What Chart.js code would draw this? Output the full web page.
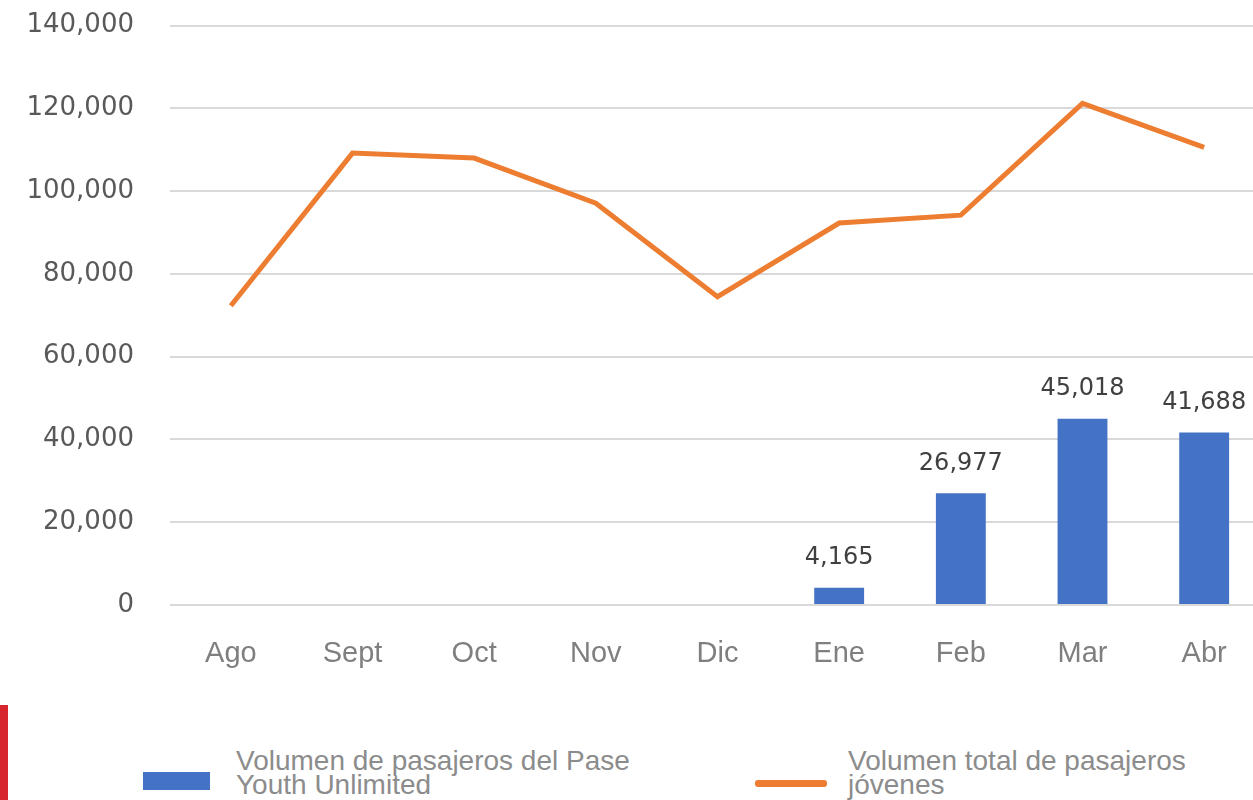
<!DOCTYPE html>
<html>
<head>
<meta charset="utf-8">
<script src="https://cdn.jsdelivr.net/npm/chart.js@4"></script>
<style>
  body { margin: 0; background: #fff; width: 1253px; height: 800px; overflow: hidden; position: relative; font-family: "Liberation Sans", Arial, sans-serif; }
  #wrap { position: absolute; left: 0; top: -26px; width: 1265px; height: 726px; }
  .redbar { position: absolute; left: 0; top: 705px; width: 8px; height: 95px; background: #d7262e; }
  .leg { position: absolute; color: #8c8c8c; font-size: 28px; line-height: 24px; white-space: nowrap; }
  .sw { position: absolute; }
</style>
</head>
<body>
<div id="wrap"><canvas id="grafico" width="1265" height="726"></canvas></div>
<div class="redbar"></div>
<div class="sw" style="left:143px;top:772px;width:67px;height:18px;background:#4472c4"></div>
<div class="leg" style="left:236px;top:749px">Volumen de pasajeros del Pase<br>Youth Unlimited</div>
<div class="sw" style="left:755px;top:780px;width:72px;height:7px;background:#ed7d31;border-radius:3px"></div>
<div class="leg" style="left:848px;top:749px">Volumen total de pasajeros<br>jóvenes</div>
<script>
// Datos
const meses = ['Ago', 'Sept', 'Oct', 'Nov', 'Dic', 'Ene', 'Feb', 'Mar', 'Abr'];
const pasajerosPase = [null, null, null, null, null, 4165, 26977, 45018, 41688];
const pasajerosTotal = [72300, 109200, 108000, 97100, 74500, 92300, 94200, 121200, 110600];
const ticksY = [0, 20000, 40000, 60000, 80000, 100000, 120000, 140000];

const fmt = v => v.toLocaleString('en-US');

// Etiquetas encima de las barras
const etiquetasBarras = {
  id: 'etiquetasBarras',
  afterDatasetsDraw(chart) {
    const ctx = chart.ctx;
    const meta = chart.getDatasetMeta(1);
    ctx.save();
    ctx.font = '24px "DejaVu Sans", sans-serif';
    ctx.fillStyle = '#404040';
    ctx.textAlign = 'center';
    ctx.textBaseline = 'bottom';
    meta.data.forEach((bar, i) => {
      const v = pasajerosPase[i];
      if (v == null) return;
      ctx.fillText(fmt(v), bar.x, bar.y - 18);
    });
    ctx.restore();
  }
};

new Chart(document.getElementById('grafico'), {
  type: 'bar',
  data: {
    labels: meses,
    datasets: [
      {
        type: 'line',
        label: 'Volumen total de pasajeros jóvenes',
        data: pasajerosTotal,
        borderColor: '#ed7d31',
        borderWidth: 5,
        pointRadius: 0,
        tension: 0,
        order: 0
      },
      {
        label: 'Volumen de pasajeros del Pase Youth Unlimited',
        data: pasajerosPase,
        backgroundColor: '#4472c4',
        categoryPercentage: 1,
        barPercentage: 0.41,
        order: 1
      }
    ]
  },
  options: {
    responsive: false,
    animation: false,
    plugins: { legend: { display: false }, tooltip: { enabled: false } },
    scales: {
      x: {
        grid: { display: false },
        border: { display: false },
        ticks: { color: '#7f7f7f', font: { size: 29, family: '"Liberation Sans", Arial' }, padding: 24, maxRotation: 0 },
        afterFit: s => { s.height = 95; }
      },
      y: {
        min: 0,
        max: 140000,
        afterBuildTicks: s => { s.ticks = ticksY.map(v => ({ value: v })); },
        grid: { color: '#d9d9d9', lineWidth: 2, drawTicks: false },
        border: { display: false },
        ticks: { color: '#595959', font: { size: 26, family: '"DejaVu Sans", sans-serif' }, padding: 36, callback: v => fmt(v) },
        afterFit: s => { s.width = 170; }
      }
    }
  },
  plugins: [etiquetasBarras]
});
</script>
</body>
</html>
